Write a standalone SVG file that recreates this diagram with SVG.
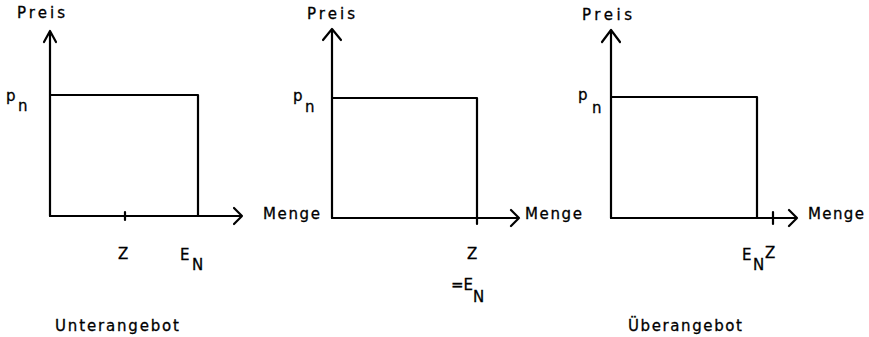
<svg xmlns="http://www.w3.org/2000/svg" width="869" height="337" viewBox="0 0 869 337">
<style>
.ax{stroke:#000;stroke-width:2.2;fill:none;stroke-linecap:round;stroke-linejoin:round}
.t{font-family:"DejaVu Sans","Liberation Sans",sans-serif;font-size:15px;fill:#000;stroke:#000;stroke-width:0.3}
.s{font-family:"DejaVu Sans","Liberation Sans",sans-serif;font-size:15px;fill:#000;stroke:#000;stroke-width:0.3}
</style>
<rect width="869" height="337" fill="#fff"/>
<g id="panel1">
  <path class="ax" d="M50,216 V31 M44,42 L50,31 L56,42"/>
  <path class="ax" d="M50,216 H242 M234,208 L242,216 L234,224"/>
  <path class="ax" d="M50,95 H198 V216"/>
  <path class="ax" d="M125,212 V220"/>
  <text class="t" x="17" y="18" textLength="48">Preis</text>
  <text class="s" x="6" y="101">p</text>
  <text class="s" x="18" y="111">n</text>
  <text class="s" x="118" y="259">Z</text>
  <text class="s" x="180" y="260">E</text>
  <text class="s" x="192" y="270">N</text>
  <text class="t" x="55" y="331" textLength="124">Unterangebot</text>
</g>
<g id="panel2">
  <path class="ax" d="M332,218 V30 M323,40 L332,29 L341,40"/>
  <path class="ax" d="M332,218 H519 M511,210 L519,218 L511,226"/>
  <path class="ax" d="M332,98 H477 V224"/>
  <text class="t" x="307" y="19" textLength="48">Preis</text>
  <text class="s" x="293" y="101">p</text>
  <text class="s" x="305" y="112">n</text>
  <text class="t" x="263" y="219" textLength="57">Menge</text>
  <text class="t" x="525" y="219" textLength="57">Menge</text>
  <text class="s" x="467" y="259">Z</text>
  <text class="s" x="451" y="290">=E</text>
  <text class="s" x="473" y="302">N</text>
</g>
<g id="panel3">
  <path class="ax" d="M611,218 V31 M602,42 L611,30 L620,42"/>
  <path class="ax" d="M611,218 H797 M789,210 L797,218 L789,226"/>
  <path class="ax" d="M611,97 H757 V218"/>
  <path class="ax" d="M773,212 V224"/>
  <text class="t" x="582" y="20" textLength="50">Preis</text>
  <text class="s" x="578" y="100">p</text>
  <text class="s" x="592" y="113">n</text>
  <text class="t" x="808" y="219" textLength="56">Menge</text>
  <text class="s" x="742" y="260">E</text>
  <text class="s" x="753" y="270">N</text>
  <text class="s" x="765" y="258">Z</text>
  <text class="t" x="628" y="331" textLength="114">Überangebot</text>
</g>
</svg>
